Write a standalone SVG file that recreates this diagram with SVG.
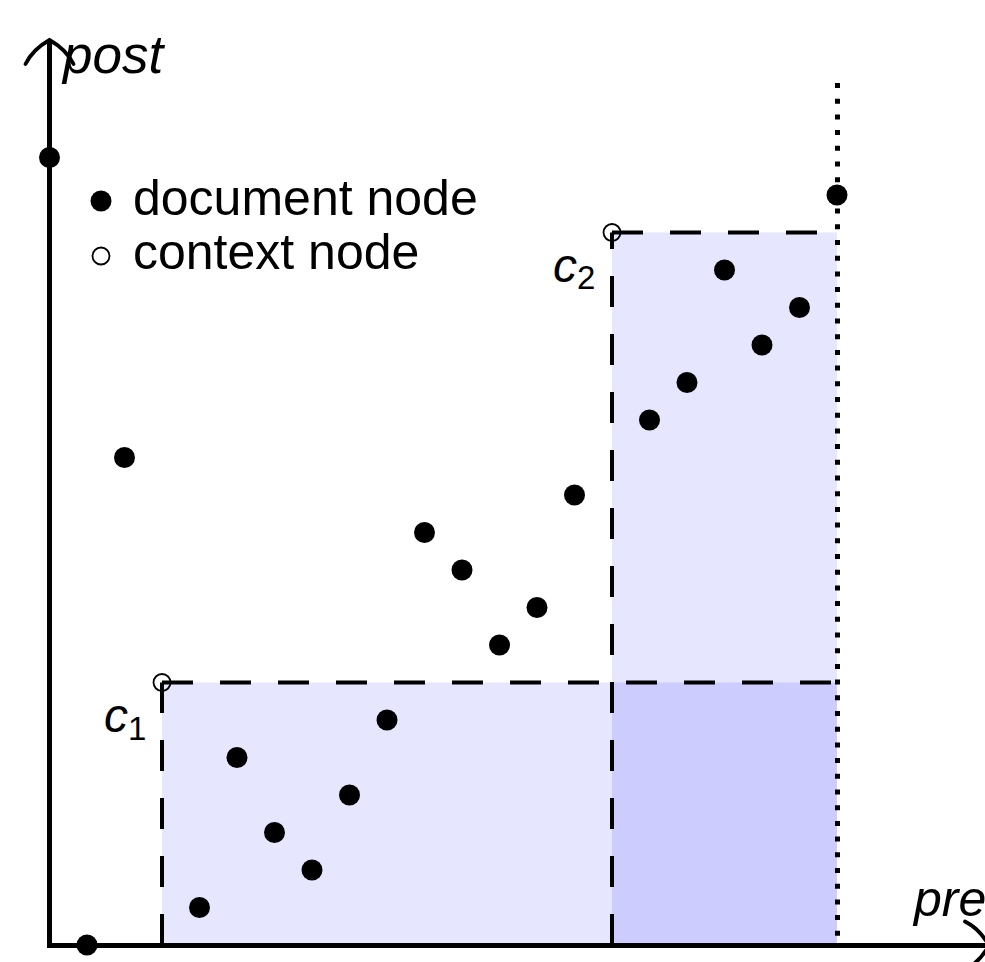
<svg xmlns="http://www.w3.org/2000/svg" width="985" height="962" viewBox="0 0 985 962">
<style>
.txt{font-family:"Liberation Sans",Arial,sans-serif;fill:#000}
.it{font-style:italic}
.dash{fill:none;stroke:#000;stroke-width:4;stroke-dasharray:31 27}
.axis{fill:none;stroke:#000;stroke-width:5}
.head{fill:none;stroke:#000;stroke-width:3.8;stroke-linecap:round;stroke-linejoin:miter}
.doc{fill:#000}
.ctx{fill:none;stroke:#000;stroke-width:1.8}
</style>
<defs>
<path id="ah" d="M-24,24 C-19,14 -9,5 0,0 C9,5 19,14 24,24" class="head"/>
</defs>
<g id="regions">
<rect x="162" y="682.5" width="675" height="262.5" fill="#e6e6ff"/>
<rect x="612" y="232.5" width="225" height="712.5" fill="#e6e6ff"/>
<rect x="612" y="682.5" width="225" height="262.5" fill="#ccccff"/>
</g>
<g id="connectors">
<path class="dash" d="M162,945 V682.5"/>
<path class="dash" d="M162,682.5 H837"/>
<path class="dash" d="M612,945 V232.5"/>
<path class="dash" d="M612,232.5 H837"/>
<path d="M837.5,83 V945" fill="none" stroke="#000" stroke-width="5" stroke-dasharray="5 10.7"/>
<path class="axis" d="M49.5,947.5 V41"/>
<path class="axis" d="M47,945.5 H988"/>
<use href="#ah" transform="translate(49.5,40)"/>
<use href="#ah" transform="translate(989,945.5) rotate(90)"/>
</g>
<g id="axis-labels">
<text class="txt it" x="63" y="73" font-size="53">post</text>
<text class="txt it" x="914" y="916" font-size="50">pre</text>
</g>
<g id="legend">
<circle class="doc" cx="101" cy="201" r="10.5"/>
<text class="txt" x="133" y="215" font-size="50">document node</text>
<circle class="ctx" cx="101" cy="256" r="8.5"/>
<text class="txt" x="133" y="269" font-size="50">context node</text>
</g>
<g id="nodes">
<circle id="n0" class="doc" cx="49.5" cy="157.5" r="10.5"/>
<circle id="n1" class="doc" cx="87" cy="945" r="10.5"/>
<circle id="n2" class="doc" cx="124.5" cy="457.5" r="10.5"/>
<circle id="n4" class="doc" cx="199.5" cy="907.5" r="10.5"/>
<circle id="n5" class="doc" cx="237" cy="757.5" r="10.5"/>
<circle id="n6" class="doc" cx="274.5" cy="832.5" r="10.5"/>
<circle id="n7" class="doc" cx="312" cy="870" r="10.5"/>
<circle id="n8" class="doc" cx="349.5" cy="795" r="10.5"/>
<circle id="n9" class="doc" cx="387" cy="720" r="10.5"/>
<circle id="n10" class="doc" cx="424.5" cy="532.5" r="10.5"/>
<circle id="n11" class="doc" cx="462" cy="570" r="10.5"/>
<circle id="n12" class="doc" cx="499.5" cy="645" r="10.5"/>
<circle id="n13" class="doc" cx="537" cy="607.5" r="10.5"/>
<circle id="n14" class="doc" cx="574.5" cy="495" r="10.5"/>
<circle id="n16" class="doc" cx="649.5" cy="420" r="10.5"/>
<circle id="n17" class="doc" cx="687" cy="382.5" r="10.5"/>
<circle id="n18" class="doc" cx="724.5" cy="270" r="10.5"/>
<circle id="n19" class="doc" cx="762" cy="345" r="10.5"/>
<circle id="n20" class="doc" cx="799.5" cy="307.5" r="10.5"/>
<circle id="n21" class="doc" cx="837" cy="195" r="10.5"/>
</g>
<g id="c1">
<circle class="ctx" cx="162" cy="682.5" r="8.5"/>
<text class="txt" x="104" y="732" font-size="48"><tspan class="it">c</tspan><tspan font-size="33" dy="8">1</tspan></text>
</g>
<g id="c2">
<circle class="ctx" cx="612" cy="232.5" r="8.5"/>
<text class="txt" x="553" y="282" font-size="48"><tspan class="it">c</tspan><tspan font-size="33" dy="7">2</tspan></text>
</g>
</svg>
